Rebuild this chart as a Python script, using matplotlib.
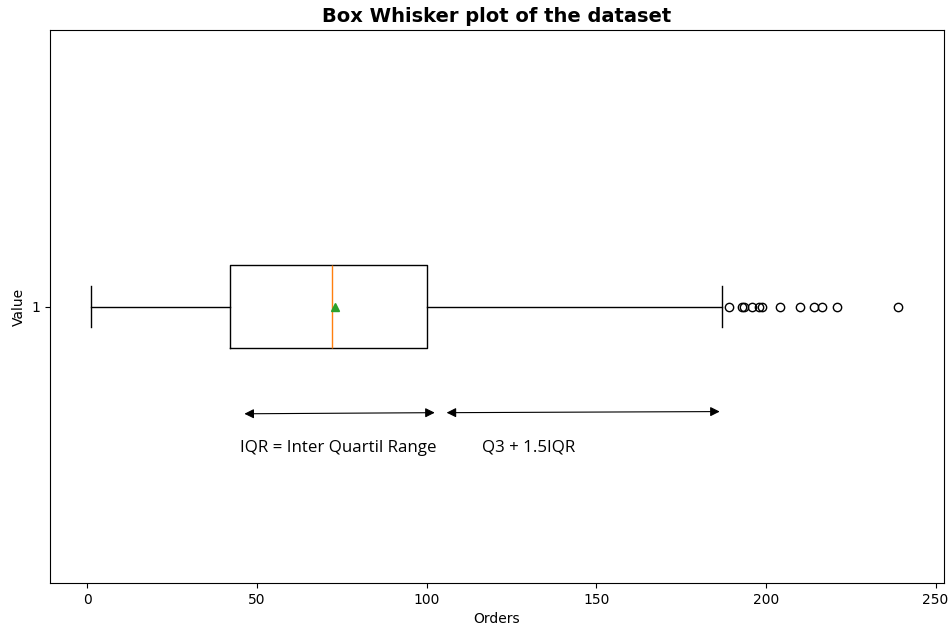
import matplotlib

matplotlib.use("Agg")
import matplotlib.pyplot as plt

# box statistics
q1 = 42
median = 72
q3 = 100
mean = 73
whisker_low = 1
whisker_high = 187
outliers = [189.2, 193.0, 193.6, 195.8, 197.9, 198.8, 204.1, 210.0, 214.2, 216.5, 221.0, 239.0]

# annotation arrows (data coords)
iqr_arrow_x = [46.3, 102.4]
iqr_arrow_y = [0.806, 0.808]
upper_arrow_x = [105.9, 186.4]
upper_arrow_y = [0.808, 0.810]
iqr_label = "IQR = Inter Quartil Range"
upper_label = "Q3 + 1.5IQR"
label_pos = [(45.0, 0.745), (116.2, 0.745)]


def main() -> None:
    fig, ax = plt.subplots(figsize=(9.51, 6.30), dpi=100)
    fig.subplots_adjust(left=50 / 951, right=944 / 951, top=1 - 30 / 630, bottom=1 - 583 / 630)

    stats = [
        {
            "med": median,
            "q1": q1,
            "q3": q3,
            "mean": mean,
            "whislo": whisker_low,
            "whishi": whisker_high,
            "fliers": outliers,
        }
    ]
    ax.bxp(stats, orientation="horizontal", showmeans=True, widths=0.15)
    ax.set_yticks([1])
    ax.set_yticklabels(["1"])
    ax.set_ylim(0.5, 1.5)
    ax.set_xlim(-11, 252.5)
    ax.set_xticks([0, 50, 100, 150, 200, 250])

    arrow = dict(arrowstyle="<|-|>", color="black", lw=0.8, mutation_scale=14, shrinkA=0, shrinkB=0)
    ax.annotate("", xy=(iqr_arrow_x[1], iqr_arrow_y[1]), xytext=(iqr_arrow_x[0], iqr_arrow_y[0]),
                arrowprops=arrow)
    ax.annotate("", xy=(upper_arrow_x[1], upper_arrow_y[1]), xytext=(upper_arrow_x[0], upper_arrow_y[0]),
                arrowprops=arrow)
    for text, (x, y) in zip([iqr_label, upper_label], label_pos):
        ax.text(x, y, text, fontsize=12.2, family="Open Sans", va="center", ha="left")

    ax.set_title("Box Whisker plot of the dataset", fontsize=14, fontweight="bold")
    ax.set_xlabel("Orders")
    ax.set_ylabel("Value")
    fig.savefig("out.png", dpi=100)
    plt.close(fig)


if __name__ == "__main__":
    main()
